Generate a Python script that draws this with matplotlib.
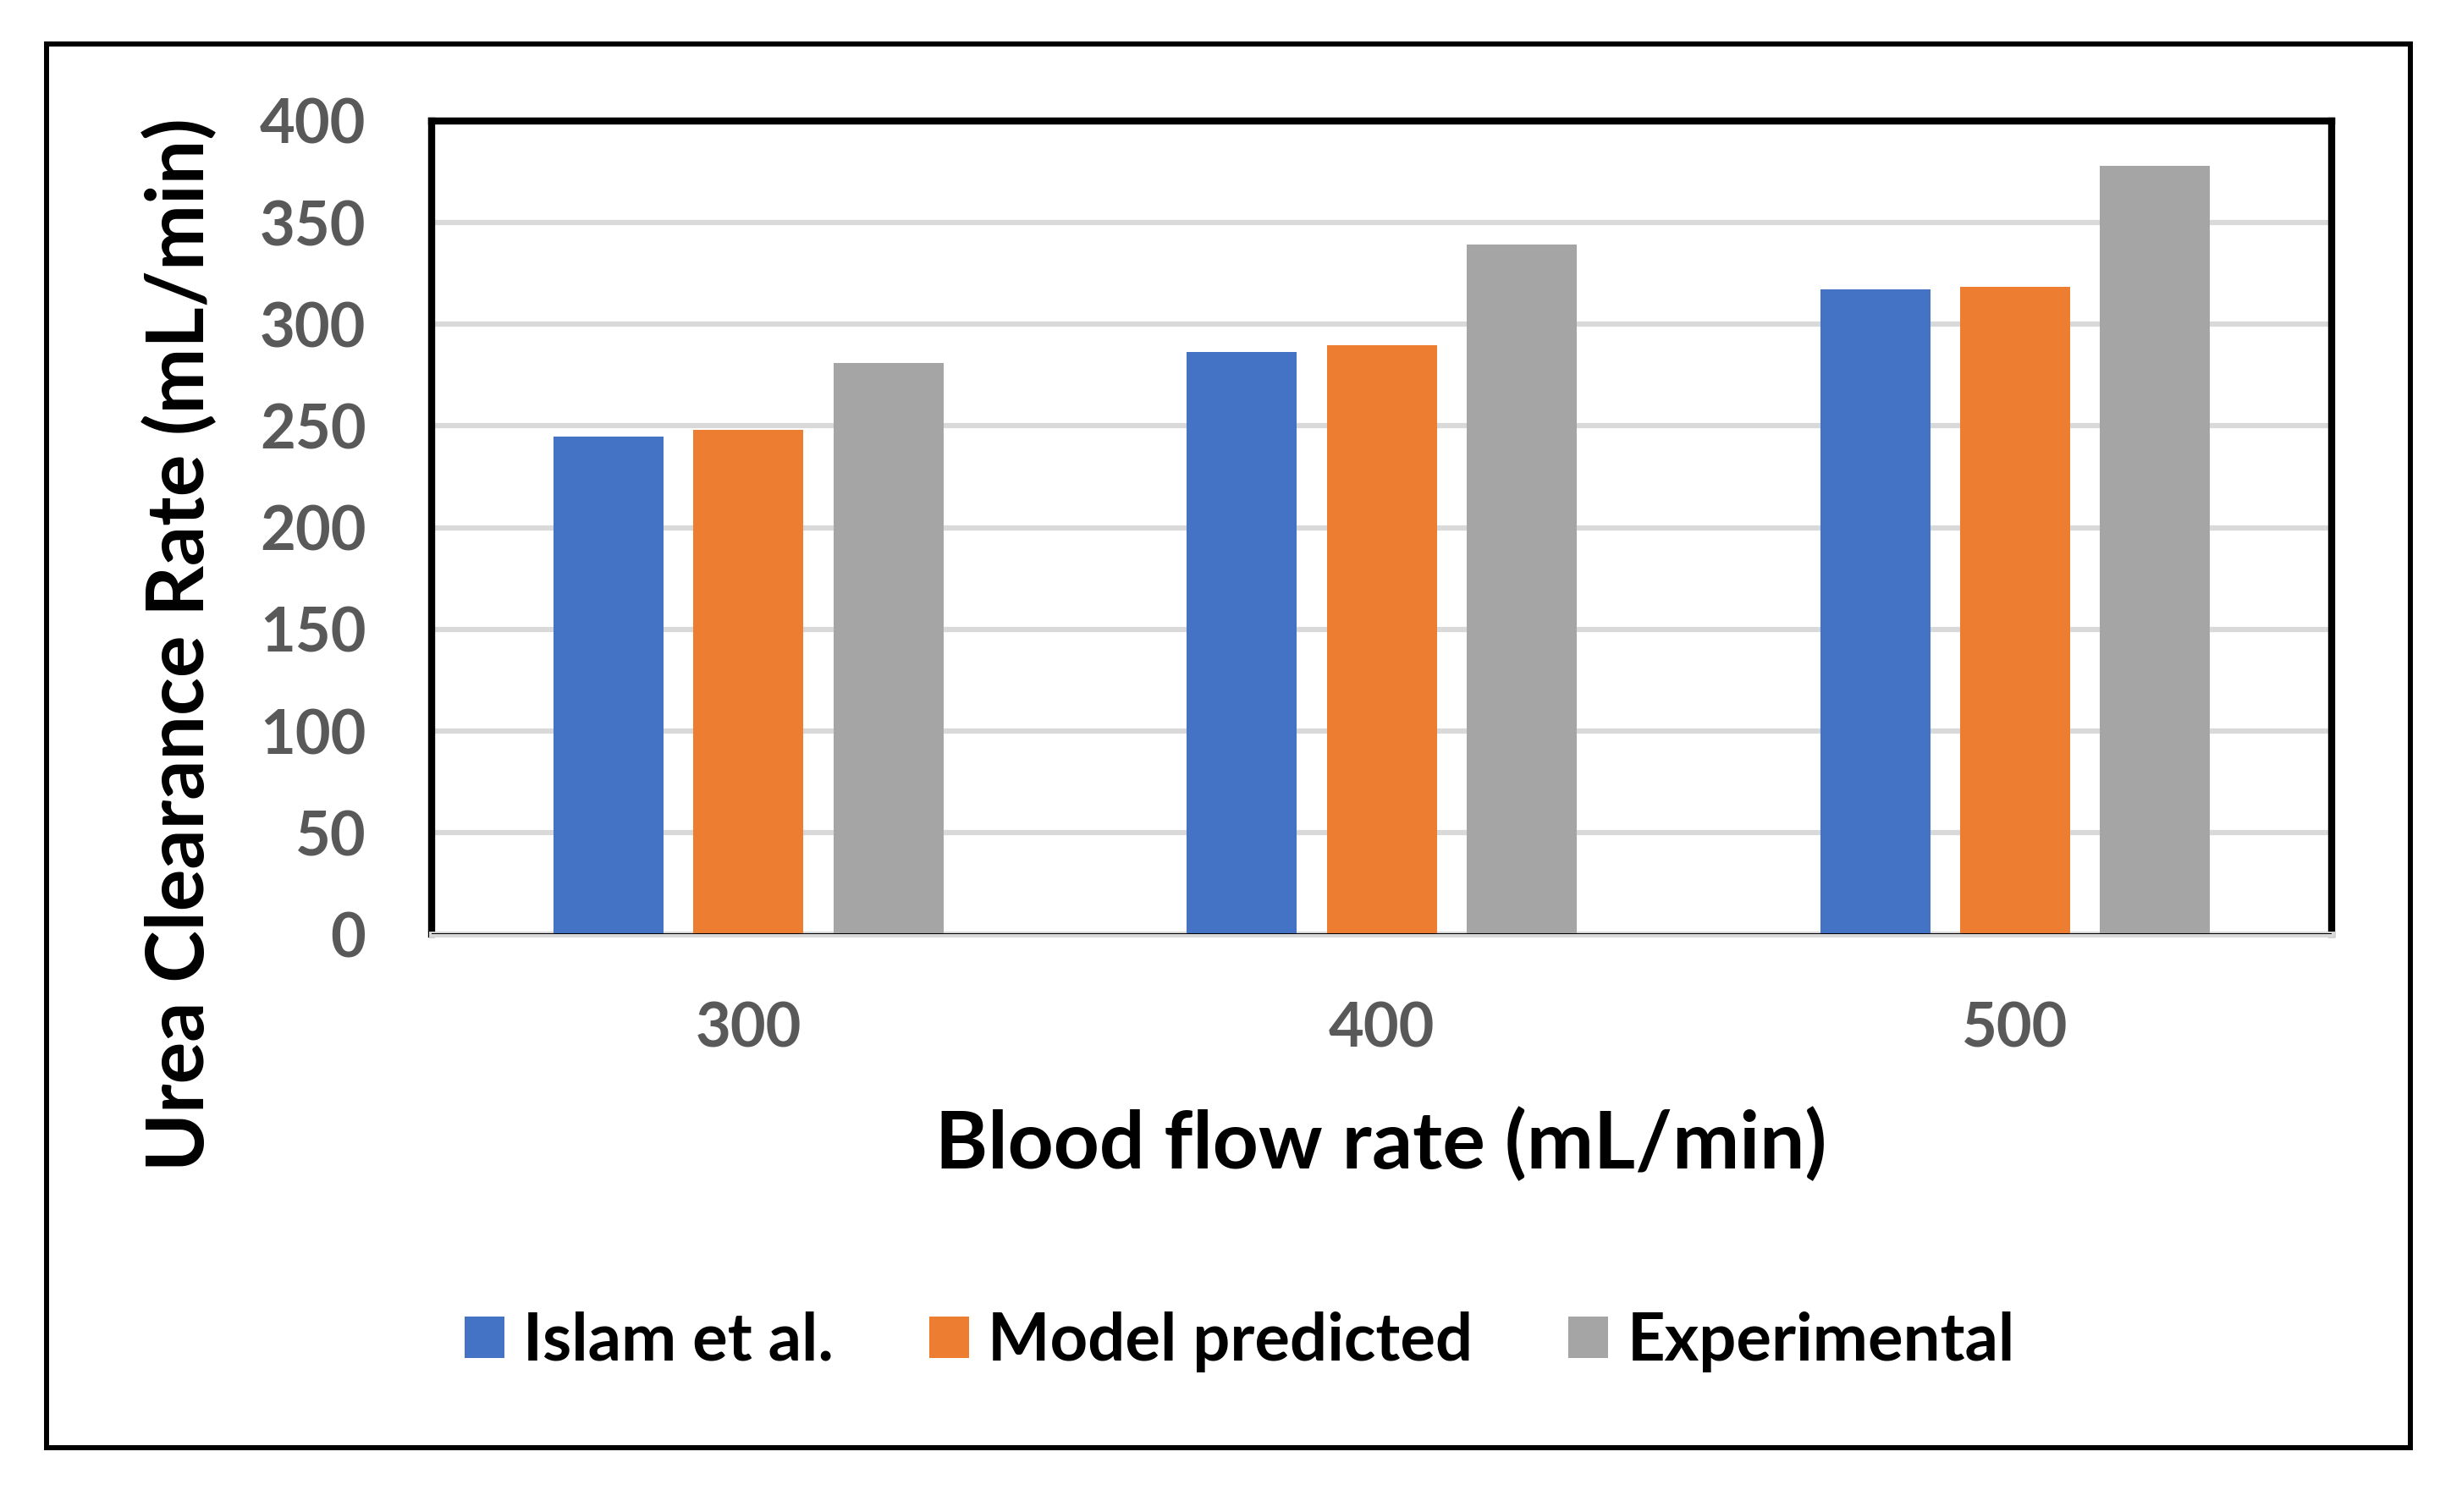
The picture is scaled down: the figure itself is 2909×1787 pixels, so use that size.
import matplotlib
matplotlib.use("Agg")
import matplotlib.pyplot as plt
from matplotlib.patches import Rectangle
import numpy as np

categories = ["300", "400", "500"]
series_names = ["Islam et al.", "Model predicted", "Experimental"]
islam = [244.7, 286.4, 317.2]
model = [248.1, 289.7, 318.6]
experimental = [281.0, 339.3, 378.1]
colors = ["#4472C4", "#ED7D31", "#A5A5A5"]
yticks = [0, 50, 100, 150, 200, 250, 300, 350, 400]

plt.rcParams['font.family'] = ['Lato', 'DejaVu Sans']
plt.rcParams['font.weight'] = 'bold'

fig = plt.figure(figsize=(29.09, 17.87), dpi=100)
ax = fig.add_axes([0.1754, 0.382, 0.7717, 0.538])

x = np.arange(len(categories))
width = 0.1736
offsets = [-0.221, 0.0, 0.221]
for vals, name, c, off in zip([islam, model, experimental], series_names, colors, offsets):
    ax.bar(x + off, vals, width, color=c, label=name, zorder=3)

ax.set_xlim(-0.5, 2.5)
ax.set_ylim(0, 400)
ax.set_yticks(yticks)
ax.set_yticklabels([str(t) for t in yticks])
ax.set_xticks(x)
ax.set_xticklabels(categories)
ax.yaxis.grid(True, color="#D9D9D9", linewidth=4.5, zorder=0)
ax.set_axisbelow(True)
ax.tick_params(axis='both', length=0, labelsize=52, labelcolor="#595959")
ax.tick_params(axis='y', pad=56)
ax.tick_params(axis='x', pad=57)
for lab in ax.get_xticklabels() + ax.get_yticklabels():
    lab.set_fontweight('bold')

for s in ['left', 'top', 'right']:
    ax.spines[s].set_color('black')
    ax.spines[s].set_linewidth(6)
ax.spines['bottom'].set_color('#D9D9D9')
ax.spines['bottom'].set_linewidth(5)
ax.axhline(0, color='black', linewidth=1.5, zorder=4)

fig.text(0.0733, 0.574, "Urea Clearance Rate (mL/min)", rotation=90,
         ha='center', va='center', fontsize=67, fontweight='bold', color='black')
fig.text(0.561, 0.243, "Blood flow rate (mL/min)", ha='center', va='center',
         fontsize=68, fontweight='bold', color='black')

leg = fig.legend(loc='center', bbox_to_anchor=(0.5036, 0.1125), ncol=3,
                 frameon=False, prop={'size': 56, 'weight': 'bold'},
                 handlelength=0.60, handleheight=0.60, handletextpad=0.29,
                 columnspacing=1.45)

fig.patches.append(Rectangle((0.019, 0.0426), 0.96, 0.9284, transform=fig.transFigure,
                             fill=False, edgecolor='black', linewidth=4.3))

fig.savefig("out.png", dpi=100)
